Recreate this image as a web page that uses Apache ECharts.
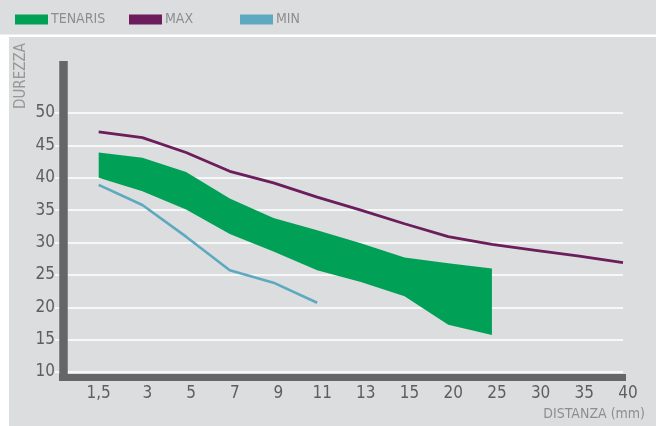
<!DOCTYPE html>
<html>
<head>
<meta charset="utf-8">
<script src="https://cdn.jsdelivr.net/npm/echarts@6/dist/echarts.min.js"></script>
<style>
html,body{margin:0;padding:0;background:#ffffff;}
#c{width:656px;height:426px;}
</style>
</head>
<body>
<div id="c"></div>
<script>
// Categories (distance, mm)
var categories = ['1,5', '3', '5', '7', '9', '11', '13', '15', '20', '25', '30', '35', '40'];
// Y tick labels
var yTicks = [10, 15, 20, 25, 30, 35, 40, 45, 50];
// TENARIS band (lower / upper edges), 1,5 .. 25
var tenarisLower = [40.0, 37.9, 35.1, 31.3, 28.6, 25.7, 23.9, 21.7, 17.3, 15.7];
var tenarisUpper = [43.9, 43.1, 40.9, 36.8, 33.8, 31.9, 29.9, 27.7, 26.8, 26.0];
// MAX curve, 1,5 .. 40
var maxValues = [47.1, 46.2, 43.9, 41.0, 39.2, 37.0, 35.0, 32.9, 30.9, 29.7, 28.8, 27.9, 26.9];
// MIN curve, 1,5 .. 11
var minValues = [38.9, 35.8, 30.9, 25.7, 23.8, 20.7];

var FONT = "'Liberation Sans Narrow', 'DejaVu Sans Condensed', 'Roboto', sans-serif";
var GREEN = '#00a057', PURPLE = '#6b1d5c', BLUE = '#5ca9c0';
var LABEL = '#5e5e5e', LIGHT = '#8e8e8e', BAR = '#666666';

// leading empty category gives the gap before the first point
var xData = [''].concat(categories);
function pad(arr) { return [null].concat(arr); }
var bandBase = pad(tenarisLower);
var bandDiff = pad(tenarisUpper.map(function (u, i) { return +(u - tenarisLower[i]).toFixed(2); }));

var chart = echarts.init(document.getElementById('c'));
function legendFor(name, left, color) {
  return {
    data: [{ name: name, icon: 'rect', itemStyle: { color: color } }],
    left: left, top: 11, padding: 0, itemWidth: 33, itemHeight: 10,
    selectedMode: false,
    textStyle: { fontFamily: FONT, fontSize: 14, color: LIGHT, lineHeight: 17, padding: [0, 0, 0, -2] }
  };
}
chart.setOption({
  animation: false,
  backgroundColor: '#ffffff',
  graphic: [
    { type: 'rect', z: -10, shape: { x: 0, y: 0, width: 656, height: 34.5 }, style: { fill: '#dcdddf' } },
    { type: 'rect', z: -10, shape: { x: 9, y: 37, width: 647, height: 389 }, style: { fill: '#dcdddf' } },
    { type: 'text', x: 21, y: 76, rotation: Math.PI / 2,
      style: { text: 'DUREZZA', fontFamily: FONT, fontSize: 15, fill: '#989898', align: 'center', verticalAlign: 'middle' } },
    { type: 'text', right: 11, top: 407,
      style: { text: 'DISTANZA (mm)', fontFamily: FONT, fontSize: 14, fill: LIGHT } }
  ],
  legend: [
    legendFor('TENARIS', 15, GREEN),
    legendFor('MAX', 129, PURPLE),
    legendFor('MIN', 240, BLUE)
  ],
  grid: [
    { left: 55, right: 33, top: 113, bottom: 54 },
    { left: 59, right: 30, top: 61, bottom: 48.5 }
  ],
  xAxis: [
    {
      type: 'category', gridIndex: 0, data: xData, boundaryGap: false,
      axisLine: { show: false }, axisTick: { show: false }, splitLine: { show: false },
      axisLabel: {
        interval: 0, margin: 13, fontFamily: FONT, fontSize: 17, color: LABEL,
        formatter: function (v) { return v === '1,5' || v === '' ? v : '{s|' + v + '}'; },
        rich: { s: { fontFamily: FONT, fontSize: 17, color: LABEL, padding: [0, 0, 0, 10] } }
      }
    },
    {
      type: 'value', gridIndex: 1, min: 0, max: 1,
      axisLine: { show: true, lineStyle: { color: BAR, width: 7, cap: 'butt' } },
      axisTick: { show: false }, axisLabel: { show: false }, splitLine: { show: false }
    }
  ],
  yAxis: [
    {
      type: 'value', gridIndex: 0, min: yTicks[0], max: yTicks[yTicks.length - 1], interval: 5,
      axisLine: { show: false }, axisTick: { show: false },
      splitLine: { show: true, lineStyle: { color: '#ffffff', width: 1.6 } },
      axisLabel: { margin: 0, fontFamily: FONT, fontSize: 17, color: LABEL }
    },
    {
      type: 'value', gridIndex: 1, min: 0, max: 1, offset: -4.5,
      axisLine: { show: true, lineStyle: { color: BAR, width: 8.5, cap: 'butt' } },
      axisTick: { show: false }, axisLabel: { show: false }, splitLine: { show: false }
    }
  ],
  series: [
    {
      name: 'base', type: 'line', stack: 'band', data: bandBase, symbol: 'none', silent: true,
      lineStyle: { opacity: 0 }, xAxisIndex: 0, yAxisIndex: 0
    },
    {
      name: 'TENARIS', type: 'line', stack: 'band', data: bandDiff, symbol: 'none',
      color: GREEN, lineStyle: { width: 0, opacity: 0 },
      areaStyle: { color: GREEN, opacity: 1 }, xAxisIndex: 0, yAxisIndex: 0
    },
    {
      name: 'MAX', type: 'line', data: pad(maxValues), symbol: 'none', color: PURPLE,
      lineStyle: { color: PURPLE, width: 2.8 }, xAxisIndex: 0, yAxisIndex: 0
    },
    {
      name: 'MIN', type: 'line', data: pad(minValues), symbol: 'none', color: BLUE,
      lineStyle: { color: BLUE, width: 2.6 }, xAxisIndex: 0, yAxisIndex: 0
    }
  ]
});
</script>
</body>
</html>
